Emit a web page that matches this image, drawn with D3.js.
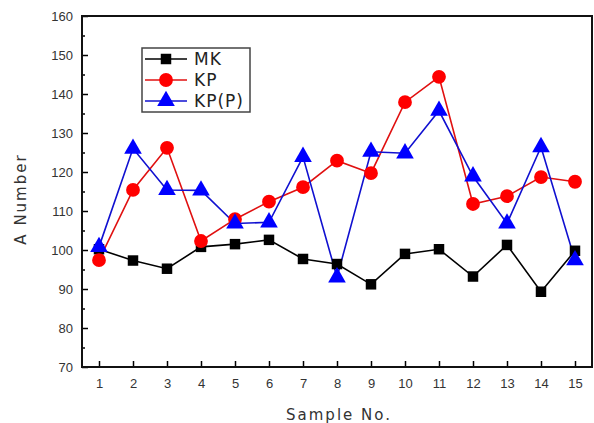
<!DOCTYPE html>
<html>
<head>
<meta charset="utf-8">
<style>
  body { margin: 0; background: #fff; }
  svg { display: block; font-family: "DejaVu Sans", Arial, sans-serif; }
  .tick text { fill: #333; font-size: 13px; }
  .axis-label { fill: #333; font-size: 15px; letter-spacing: 2px; }
  .legend text { fill: #222; font-size: 17px; letter-spacing: 1px; }
</style>
</head>
<body>
<script src="https://cdn.jsdelivr.net/npm/d3@7"></script>
<script>

  var samples = d3.range(1, 16);
  var mk = [100.2, 97.3, 95.2, 100.8, 101.5, 102.6, 97.7, 96.4, 91.2, 99.0, 100.2, 93.2, 101.3, 89.3, 99.8];
  var kp = [97.4, 115.4, 126.2, 102.3, 107.9, 112.4, 116.1, 122.9, 119.7, 137.9, 144.4, 111.8, 113.8, 118.7, 117.5];
  var kpp = [100.8, 126.0, 115.4, 115.3, 106.8, 107.1, 123.9, 93.0, 125.2, 124.8, 135.7, 118.9, 106.8, 126.4, 97.4];
  var yTicks = [70, 80, 90, 100, 110, 120, 130, 140, 150, 160];
  var yMinor = [75, 85, 95, 105, 115, 125, 135, 145, 155];

  var series = [
    { name: "MK", values: mk, color: "#000", line: "#000", shape: "square" },
    { name: "KP", values: kp, color: "#ff0000", line: "#e01010", shape: "circle" },
    { name: "KP(P)", values: kpp, color: "#0000ff", line: "#1010d0", shape: "triangle" }
  ];

  var W = 594, H = 423;
  var margin = { top: 16, right: 2, bottom: 56, left: 82 };
  var width = W - margin.left - margin.right,
      height = H - margin.top - margin.bottom;

  var x = d3.scaleLinear().domain([0.5, 15.5]).range([0, width]);
  var y = d3.scaleLinear().domain([70, 160]).range([height, 0]);

  var svg = d3.select("body").append("svg")
      .attr("width", W)
      .attr("height", H);

  svg.append("rect").attr("width", W).attr("height", H).attr("fill", "#fff");

  var g = svg.append("g")
      .attr("transform", "translate(" + margin.left + "," + margin.top + ")");

  // minor y ticks (inside)
  g.append("g")
      .call(d3.axisLeft(y).tickValues(yMinor).tickSizeInner(-3).tickSizeOuter(0).tickFormat(""))
      .call(function(s) { s.select(".domain").remove(); })
      .selectAll("line").attr("stroke", "#000").attr("stroke-width", 1.5);

  // major y ticks
  var yAx = g.append("g")
      .call(d3.axisLeft(y).tickValues(yTicks).tickSizeInner(-6).tickSizeOuter(0).tickPadding(10));
  yAx.select(".domain").remove();
  yAx.selectAll("line").attr("stroke", "#000").attr("stroke-width", 1.5);
  yAx.selectAll("text").attr("x", -9);

  // x ticks
  var xAx = g.append("g")
      .attr("transform", "translate(0," + height + ")")
      .call(d3.axisBottom(x).tickValues(samples).tickSizeInner(-6).tickSizeOuter(0).tickFormat(d3.format("d")));
  xAx.select(".domain").remove();
  xAx.selectAll("line").attr("stroke", "#000").attr("stroke-width", 1.5);
  xAx.selectAll("text").attr("y", 12);

  // frame
  g.append("rect")
      .attr("width", width)
      .attr("height", height)
      .attr("fill", "none")
      .attr("stroke", "#111")
      .attr("stroke-width", 2);

  var line = d3.line()
      .x(function(d, i) { return x(samples[i]); })
      .y(function(d) { return y(d); });

  var sym = {
    square: d3.symbol().type(d3.symbolSquare).size(110),
    circle: d3.symbol().type(d3.symbolCircle).size(150),
    triangle: d3.symbol().type(d3.symbolTriangle).size(135)
  };

  series.forEach(function(s) {
    g.append("path")
        .datum(s.values)
        .attr("fill", "none")
        .attr("stroke", s.line)
        .attr("stroke-width", 1.6)
        .attr("d", line);
  });
  series.forEach(function(s) {
    g.selectAll(null)
        .data(s.values)
        .enter().append("path")
        .attr("transform", function(d, i) { return "translate(" + x(samples[i]) + "," + y(d) + ")"; })
        .attr("d", sym[s.shape])
        .attr("fill", s.color);
  });

  // axis labels
  svg.append("text")
      .attr("class", "axis-label")
      .attr("text-anchor", "middle")
      .attr("x", margin.left + width / 2 + 2)
      .attr("y", 420)
      .text("Sample No.");

  svg.append("text")
      .attr("class", "axis-label")
      .attr("text-anchor", "middle")
      .attr("transform", "translate(26,199) rotate(-90)")
      .text("A Number");

  // legend
  var leg = svg.append("g").attr("class", "legend").attr("transform", "translate(142,48)");
  leg.append("rect")
      .attr("width", 108)
      .attr("height", 64)
      .attr("fill", "#fff")
      .attr("stroke", "#444")
      .attr("stroke-width", 1.5);
  series.forEach(function(s, i) {
    var row = leg.append("g").attr("transform", "translate(0," + (11 + i * 21) + ")");
    row.append("line")
        .attr("x1", 3).attr("x2", 45)
        .attr("stroke", s.line).attr("stroke-width", 1.6);
    row.append("path")
        .attr("transform", "translate(24,0)")
        .attr("d", sym[s.shape])
        .attr("fill", s.color);
    row.append("text")
        .attr("x", 52)
        .attr("dy", "0.36em")
        .text(s.name);
  });

</script>
</body>
</html>
